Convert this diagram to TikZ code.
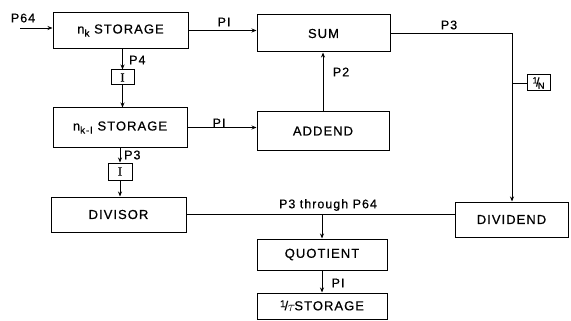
\documentclass[tikz,border=0pt]{standalone}
\usepackage{fontspec}
\setmainfont{Liberation Sans}[LetterSpace=8,FakeBold=0.6]
\newfontfamily\serifI{Liberation Serif}[FakeBold=0.6]
\usetikzlibrary{arrows.meta}
\begin{document}
\begin{tikzpicture}[x=1pt,y=-1pt,
  blk/.style={draw,line width=1pt,inner sep=0pt,font=\fontsize{13}{15}\selectfont},
  small/.style={draw,line width=1pt,inner sep=0pt,font=\fontsize{12.5}{13}\selectfont},
  lbl/.style={inner sep=0pt,font=\fontsize{12.5}{14}\selectfont},
  conn/.style={line width=0.9pt,-{Stealth[length=5pt,width=4pt]}},
  wire/.style={line width=0.9pt}]
\useasboundingbox (0,0) rectangle (571,321);
% boxes
\node[blk,minimum width=135pt,minimum height=36pt] (nk) at (120.5,30.5) {n\raisebox{-0.45ex}{\fontsize{10}{10}\selectfont k} STORAGE};
\node[blk,minimum width=133pt,minimum height=37pt] (sum) at (323.5,33.5) {SUM};
\node[small,minimum width=23pt,minimum height=15pt] (i1) at (122.5,77.5) {\serifI I};
\node[blk,minimum width=134pt,minimum height=39pt] (nkm) at (120,127.5) {n\raisebox{-0.45ex}{\fontsize{10}{10}\selectfont k-I} STORAGE};
\node[blk,minimum width=132pt,minimum height=38pt] (add) at (323,131) {ADDEND};
\node[small,minimum width=24pt,minimum height=17pt] (i2) at (120,171.5) {\serifI I};
\node[blk,minimum width=135pt,minimum height=35pt] (div) at (118.5,214.5) {DIVISOR};
\node[blk,minimum width=113pt,minimum height=35pt] (dvd) at (511.5,219.5) {DIVIDEND};
\node[blk,minimum width=130pt,minimum height=31pt] (quo) at (322,254.5) {QUOTIENT};
\node[blk,minimum width=130pt,minimum height=26pt] (tau) at (322,306) {\raisebox{0.45ex}{\fontsize{10}{10}\selectfont 1}\kern-1pt/\kern-0.5pt\raisebox{-0.2ex}{\fontsize{14}{14}\selectfont$\tau$}\kern-1pt STORAGE};
\node[small,minimum width=23pt,minimum height=16pt] (invn) at (538.5,83) {\raisebox{0.45ex}{\fontsize{9}{9}\selectfont 1}\kern-1.5pt/\kern-1.5pt\raisebox{-0.35ex}{\fontsize{9}{9}\selectfont N}};
% coordinates
\coordinate (in) at (20,28);
\coordinate (corner) at (512,33.5);
\coordinate (tap) at (quo.north |- div.east);
% connectors
\draw[conn] (in) -- (in -| nk.west);
\draw[conn] (nk.east) -- (nk.east -| sum.west);
\draw[conn] (nk.south -| i1.north) -- (i1.north);
\draw[conn] (i1.south) -- (i1.south |- nkm.north);
\draw[conn] (nkm.east) -- (nkm.east -| add.west);
\draw[conn] (add.north) -- (add.north |- sum.south);
\draw[conn] (nkm.south -| i2.north) -- (i2.north);
\draw[conn] (i2.south) -- (i2.south |- div.north);
\draw[wire] (sum.east) -- (sum.east -| corner);
\draw[conn] (sum.east -| corner) -- (corner |- dvd.north);
\draw[wire] (invn.west) -- (invn.west -| corner);
\draw[wire] (div.east) -- (div.east -| dvd.west);
\draw[conn] (tap) -- (quo.north);
\draw[conn] (quo.south) -- (tau.north);
% labels
\node[lbl] (lp64) at (23,18) {P64};
\node[lbl] (lp1a) at (224,22) {PI};
\node[lbl,anchor=west] (lp4) at (129,60) {P4};
\node[lbl] (lp1b) at (219,123) {PI};
\node[lbl] (lp2) at (341,72) {P2};
\node[lbl] (lp3a) at (449,25) {P3};
\node[lbl,anchor=west] (lp3b) at (124,155) {P3};
\node[lbl] (lthr) at (328,205) {P3 through P64};
\node[lbl] (lp1c) at (338,283) {PI};
\end{tikzpicture}
\end{document}
